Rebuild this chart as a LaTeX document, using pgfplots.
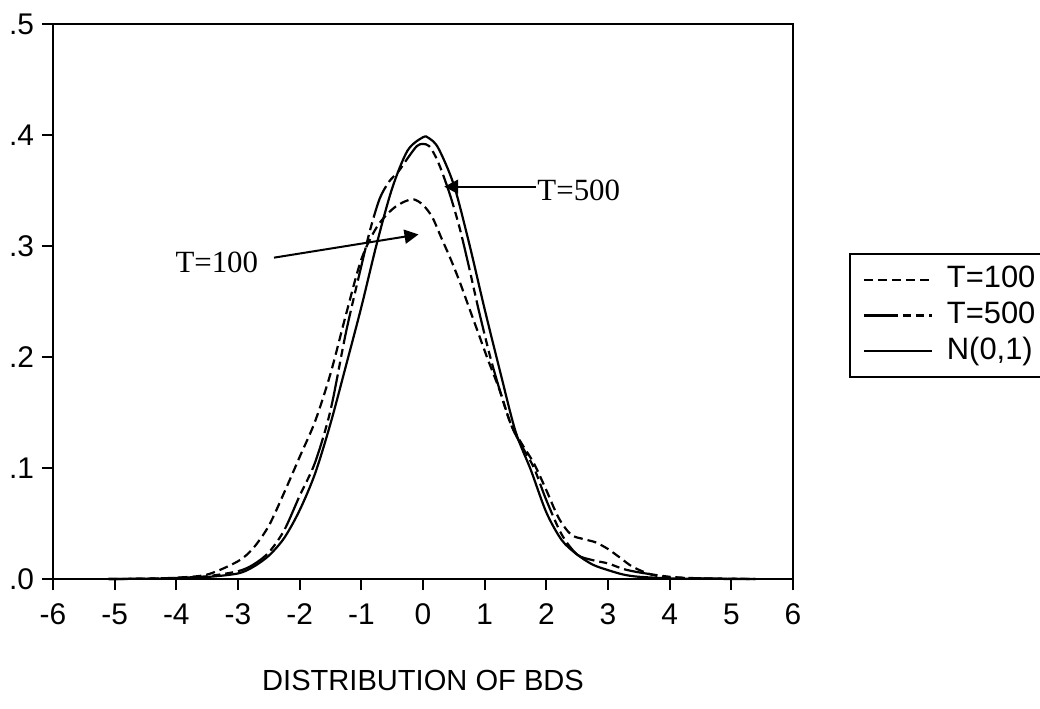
\documentclass[border=0pt]{standalone}
\usepackage{pgfplots}
\pgfplotsset{compat=1.18}
\usepackage{fontspec}
\setmainfont{Liberation Sans}
\newfontfamily\timesfont{Liberation Serif}
\usetikzlibrary{arrows.meta}

% kernel density estimates
\pgfplotstableread{
x y
-5.1 0
-4.5 0.0003
-4.0 0.0012
-3.5 0.004
-3.0 0.016
-2.75 0.028
-2.5 0.048
-2.25 0.078
-2.0 0.110
-1.75 0.142
-1.5 0.185
-1.25 0.238
-1.0 0.288
-0.75 0.317
-0.5 0.333
-0.3 0.340
-0.15 0.342
0.0 0.337
0.15 0.326
0.3 0.307
0.45 0.288
0.6 0.267
0.75 0.244
0.9 0.221
1.05 0.198
1.25 0.169
1.42 0.140
1.6 0.122
1.8 0.104
2.0 0.080
2.2 0.055
2.4 0.040
2.6 0.036
2.8 0.033
3.0 0.027
3.2 0.019
3.4 0.011
3.7 0.004
4.0 0.0015
4.5 0.0005
5.4 0
}\tsmall

\pgfplotstableread{
x y
-5.1 0
-4.5 0.0003
-4.0 0.001
-3.5 0.0025
-3.0 0.007
-2.75 0.013
-2.5 0.024
-2.25 0.044
-2.0 0.075
-1.75 0.105
-1.5 0.152
-1.25 0.222
-1.0 0.282
-0.85 0.316
-0.7 0.343
-0.55 0.358
-0.4 0.367
-0.25 0.379
-0.1 0.390
0.0 0.392
0.1 0.390
0.2 0.381
0.3 0.368
0.45 0.344
0.6 0.315
0.75 0.280
0.9 0.243
1.1 0.198
1.3 0.160
1.45 0.136
1.6 0.120
1.8 0.100
2.0 0.071
2.25 0.040
2.5 0.022
2.75 0.017
3.0 0.014
3.25 0.009
3.5 0.006
4.0 0.002
4.5 0.0006
5.0 0.0003
5.4 0
}\tlarge

\pgfplotstableread{
x y
-5.1 0
-4.5 0.0002
-4.0 0.0006
-3.5 0.0018
-3.0 0.005
-2.75 0.011
-2.5 0.021
-2.25 0.037
-2.0 0.062
-1.75 0.095
-1.5 0.140
-1.25 0.192
-1.0 0.245
-0.75 0.302
-0.5 0.352
-0.25 0.386
0.0 0.398
0.1 0.397
0.25 0.388
0.5 0.355
0.75 0.302
1.0 0.243
1.25 0.187
1.5 0.133
1.75 0.098
2.0 0.060
2.25 0.035
2.5 0.022
2.75 0.013
3.0 0.008
3.25 0.004
3.5 0.002
4.0 0.0006
4.5 0.0002
5.3 0
}\normal

\begin{document}
\begin{tikzpicture}
\useasboundingbox (-26.5bp,-65bp) rectangle (493.5bp,289.5bp);
\begin{axis}[
    at={(0,0)}, anchor=south west,
    scale only axis,
    width=370bp, height=277.5bp,
    xmin=-6, xmax=6, ymin=0, ymax=0.5,
    xtick={-6,-5,-4,-3,-2,-1,0,1,2,3,4,5,6},
    xticklabels={-6,-5,-4,-3,-2,-1,0,1,2,3,4,5,6},
    ytick={0,0.1,0.2,0.3,0.4,0.5},
    yticklabels={.0,.1,.2,.3,.4,.5},
    tick align=outside, xtick pos=left, ytick pos=left,
    major tick length=5.5bp,
    tick style={line width=1bp, black},
    axis line style={line width=1bp},
    ticklabel style={font=\fontsize{15}{17}\selectfont},
    xticklabel style={yshift=-3.5bp},
    yticklabel style={xshift=-0.5bp},
    xlabel={DISTRIBUTION OF BDS},
    every axis x label/.style={at={(axis description cs:0.5,0)}, anchor=center, yshift=-50.5bp, font=\fontsize{14.6}{16}\selectfont},
    clip=false,
    legend style={at={(rel axis cs:1.0757,0.5874)}, anchor=north west,
        draw=black, line width=1bp, font=\fontsize{15.5}{17}\selectfont,
        inner xsep=6.35bp, inner ysep=6bp, row sep=3.8bp,
        nodes={inner sep=0pt, text height=11bp, text depth=3bp},
        /tikz/every odd column/.append style={column sep=7bp}},
    legend cell align=left,
    legend image code/.code={\draw[#1] (0bp,0bp) -- (34bp,0bp);},
]
\addplot[black, line width=1.1bp, smooth, dash pattern=on 4.5bp off 2.5bp] table {\tsmall};
\addplot[black, line width=1.1bp, smooth, dash pattern=on 17bp off 2.5bp on 4bp off 2.5bp on 4bp off 2.5bp] table {\tlarge};
\addplot[black, line width=1.1bp, smooth] table {\normal};
\legend{T=100,T=500,{N(0,1)}}

\draw[line width=1bp, -{Triangle[length=7bp,width=7bp]}] (axis cs:1.83,0.3534) -- (axis cs:0.344,0.3534);
\node[anchor=base west, inner sep=0pt, font=\timesfont\fontsize{15.5}{17}\selectfont] at (axis cs:1.85,0.3414) {T=500};
\draw[line width=1bp, -{Triangle[length=7bp,width=7bp]}] (axis cs:-2.416,0.2895) -- (axis cs:-0.073,0.3104);
\node[anchor=base west, inner sep=0pt, font=\timesfont\fontsize{15.5}{17}\selectfont] at (axis cs:-4.02,0.2759) {T=100};
\end{axis}
\end{tikzpicture}
\end{document}
